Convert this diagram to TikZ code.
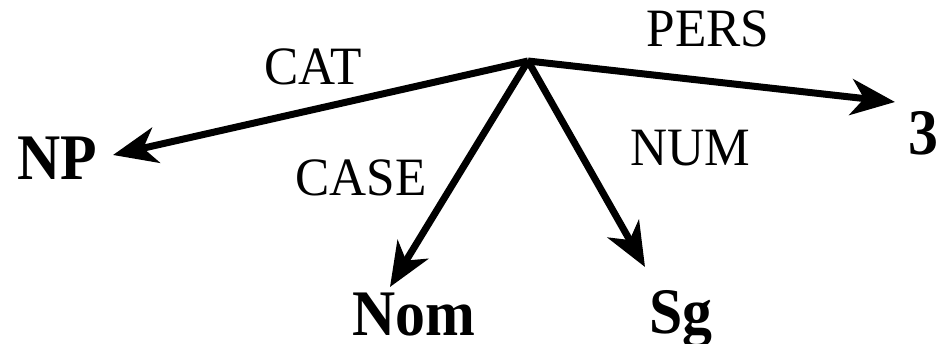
\documentclass[tikz,border=0pt]{standalone}
\usepackage{fontspec}
\setmainfont{Liberation Serif}
\newfontfamily\labfont[FakeStretch=0.95]{Liberation Serif}
\newfontfamily\valfont[FakeStretch=0.92]{Liberation Serif Bold}
\usetikzlibrary{arrows.meta}
\tikzset{
  lab/.style={inner sep=0pt, anchor=base, font=\labfont\fontsize{54}{54}\selectfont},
  val/.style={inner sep=0pt, anchor=base, font=\valfont\fontsize{65}{65}\selectfont},
  edge/.style={line width=7pt, -{Stealth[length=44pt, width=36pt, inset=13pt]}}
}
\begin{document}
\begin{tikzpicture}[x=1pt, y=-1pt]
\useasboundingbox (0,0) rectangle (948,344);
\coordinate (c) at (528,61);
\coordinate (tnp) at (113,155);
\coordinate (tnom) at (390,287);
\coordinate (tsg) at (645,267);
\coordinate (t3) at (895,102);
\node[lab] (cat) at (313,85) {CAT};
\node[lab] (case) at (361,196) {CASE};
\node[lab] (num) at (690,166) {NUM};
\node[lab] (pers) at (708,47) {PERS};
\node[val] (np) at (57,180) {NP};
\node[val] (nom) at (414,336) {Nom};
\node[val] (sg) at (681,334) {Sg};
\node[val] (three) at (923,155) {3};
\draw[edge] (c) -- (tnp);
\draw[edge] (c) -- (tnom);
\draw[edge] (c) -- (tsg);
\draw[edge] (c) -- (t3);
\end{tikzpicture}
\end{document}
